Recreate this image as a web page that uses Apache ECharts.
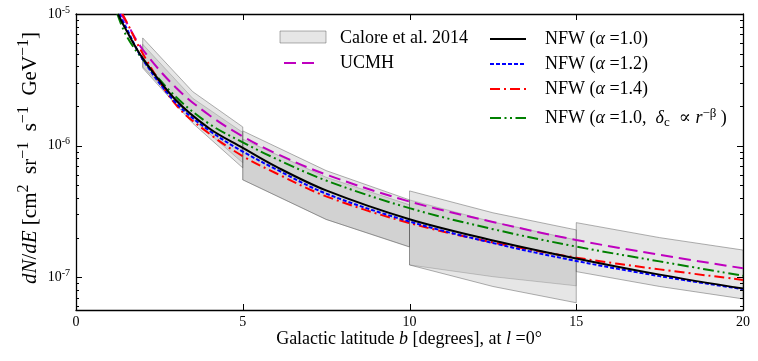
<!DOCTYPE html>
<html><head><meta charset="utf-8">
<script src="https://cdn.jsdelivr.net/npm/echarts@6/dist/echarts.min.js"></script>
<style>html,body{margin:0;padding:0;background:#fff}#c{width:758px;height:361px}</style>
</head><body><div id="c"></div>
<script>
// ---------------- data ----------------
const xTicks = [0, 5, 10, 15, 20];
const yMajorTicks = [1e-7, 1e-6, 1e-5];
const yMinorTicks = [6e-8, 7e-8, 8e-8, 9e-8,
  2e-7, 3e-7, 4e-7, 5e-7, 6e-7, 7e-7, 8e-7, 9e-7,
  2e-6, 3e-6, 4e-6, 5e-6, 6e-6, 7e-6, 8e-6, 9e-6];

const nfw10_b = [1.26, 1.5, 2, 3, 4, 5, 6, 7.5, 10, 12.5, 15, 17.5, 20];
const nfw10_v = [1e-5, 7.59e-6, 4.62e-6, 2.21e-6, 1.35e-6, 9.62e-7, 6.92e-7, 4.57e-7, 2.76e-7, 1.905e-7, 1.39e-7, 1.047e-7, 8.20e-8];

const nfw12_b = [1.30, 1.5, 2, 3, 4, 5, 6, 7.5, 10, 12.5, 15, 17.5, 20];
const nfw12_v = [1e-5, 7.94e-6, 4.52e-6, 2.11e-6, 1.30e-6, 9.02e-7, 6.61e-7, 4.32e-7, 2.65e-7, 1.82e-7, 1.33e-7, 1.02e-7, 8.13e-8];

const nfw14_b = [1.39, 1.5, 2, 3, 4, 5, 6, 7.5, 10, 12.5, 15, 17.5, 20];
const nfw14_v = [1e-5, 8.91e-6, 5.01e-6, 2.04e-6, 1.23e-6, 8.32e-7, 6.17e-7, 4.12e-7, 2.58e-7, 1.84e-7, 1.41e-7, 1.148e-7, 9.55e-8];

const ucmh_b = [1.35, 1.5, 2, 3, 4, 5, 6, 7.5, 10, 12.5, 15, 17.5, 20];
const ucmh_v = [1e-5, 8.71e-6, 5.37e-6, 2.75e-6, 1.70e-6, 1.175e-6, 8.71e-7, 6.03e-7, 3.76e-7, 2.63e-7, 1.92e-7, 1.48e-7, 1.17e-7];

const nfwBeta_b = [1.24, 1.5, 2, 3, 4, 5, 6, 7.5, 10, 12.5, 15, 17.5, 20];
const nfwBeta_v = [1e-5, 6.92e-6, 4.52e-6, 2.34e-6, 1.46e-6, 1.06e-6, 7.94e-7, 5.43e-7, 3.35e-7, 2.32e-7, 1.71e-7, 1.32e-7, 1.026e-7];

// Calore et al. 2014 latitude bins (outer band and inner band edges)
const bin1_b = [2, 3.5, 5];
const bin1_outerUp = [6.58e-6, 2.57e-6, 1.387e-6];
const bin1_outerLo = [3.89e-6, 1.48e-6, 6.78e-7];
const bin1_innerUp = [5.89e-6, 2.29e-6, 1.26e-6];
const bin1_innerLo = [3.98e-6, 1.585e-6, 7.41e-7];

const bin2_b = [5, 7.5, 10];
const bin2_outerUp = [1.294e-6, 6.46e-7, 3.87e-7];
const bin2_outerLo = [5.50e-7, 2.75e-7, 1.70e-7];
const bin2_innerUp = [1.122e-6, 5.75e-7, 3.55e-7];
const bin2_innerLo = [5.50e-7, 2.75e-7, 1.70e-7];

const bin3_b = [10, 12.5, 15];
const bin3_outerUp = [4.53e-7, 3.09e-7, 2.29e-7];
const bin3_outerLo = [1.24e-7, 8.51e-8, 6.40e-8];
const bin3_innerUp = [3.87e-7, 2.63e-7, 1.92e-7];
const bin3_innerLo = [1.24e-7, 1.01e-7, 8.61e-8];

const bin4_b = [15, 17.5, 20];
const bin4_outerUp = [2.60e-7, 2.00e-7, 1.61e-7];
const bin4_outerLo = [1.104e-7, 8.51e-8, 6.85e-8];

// ---------------- chart ----------------
const serif = '"Liberation Serif", "DejaVu Serif", serif';
const YMIN = 5.64e-8, YMAX = 1e-5;
const pairs = (xs, ys) => xs.map((x, i) => [x, ys[i]]);

const bins = [
  {b: bin1_b, ou: bin1_outerUp, ol: bin1_outerLo, iu: bin1_innerUp, il: bin1_innerLo},
  {b: bin2_b, ou: bin2_outerUp, ol: bin2_outerLo, iu: bin2_innerUp, il: bin2_innerLo},
  {b: bin3_b, ou: bin3_outerUp, ol: bin3_outerLo, iu: bin3_innerUp, il: bin3_innerLo},
  {b: bin4_b, ou: bin4_outerUp, ol: bin4_outerLo}
];

const bandFill = 'rgba(128,128,128,0.2)';
const bandEdge = 'rgba(80,80,80,0.45)';

function polygonFor(api, xs, up, lo) {
  const pts = [];
  for (let k = 0; k < xs.length; k++) pts.push(api.coord([xs[k], up[k]]));
  for (let k = xs.length - 1; k >= 0; k--) pts.push(api.coord([xs[k], lo[k]]));
  return pts;
}

const FS = 18;
const supTxt = {fontFamily: serif, fontSize: 13, verticalAlign: 'top', lineHeight: 22, color: '#000'};
const subTxt = {fontFamily: serif, fontSize: 13, verticalAlign: 'bottom', lineHeight: 22, color: '#000'};
const nTxt = {fontFamily: serif, fontSize: FS, lineHeight: 22, color: '#000'};
const iTxt = {fontFamily: serif, fontSize: FS, fontStyle: 'italic', lineHeight: 22, color: '#000'};
const richLeg = {n: nTxt, i: iTxt, sup: supTxt, sub: subTxt};

const yNameRich = {
  n: {fontFamily: serif, fontSize: 21, lineHeight: 28, color: '#000'},
  i: {fontFamily: serif, fontSize: 21, fontStyle: 'italic', lineHeight: 28, color: '#000'},
  sup: {fontFamily: serif, fontSize: 16, verticalAlign: 'top', lineHeight: 28, color: '#000'}
};

function lineSeries(name, b, v, color, type) {
  return {
    name, type: 'line', data: pairs(b, v), showSymbol: false, symbol: 'none',
    smooth: 0.35, clip: true, z: 3, silent: true,
    lineStyle: {color, width: 2, type}
  };
}

const styles = {
  ucmh: {color: '#bf00bf', dash: [12, 6]},
  beta: {color: '#008000', dash: [11, 3.5, 2, 3.5, 2, 3.5]},
  n14: {color: '#ff0000', dash: [10, 4, 2, 4]},
  n12: {color: '#0000ff', dash: [4, 2]},
  n10: {color: '#000000', dash: 'solid'}
};

const legendLines = [
  {x1: 284, x2: 320, y: 63, s: styles.ucmh},
  {x1: 490, x2: 526, y: 39, s: styles.n10},
  {x1: 490, x2: 526, y: 64, s: styles.n12},
  {x1: 490, x2: 526, y: 89, s: styles.n14},
  {x1: 490, x2: 526, y: 118, s: styles.beta}
];
const legendTexts = [
  {x: 340, y: 38, t: '{n|Calore et al. 2014}'},
  {x: 340, y: 63, t: '{n|UCMH}'},
  {x: 545, y: 39, t: '{n|NFW (}{i|α}{n| =1.0)}'},
  {x: 545, y: 64, t: '{n|NFW (}{i|α}{n| =1.2)}'},
  {x: 545, y: 89, t: '{n|NFW (}{i|α}{n| =1.4)}'},
  {x: 545, y: 118, t: '{n|NFW (}{i|α}{n| =1.0,  }{i|δ}{sub|c}{n|  ∝ }{i|r}{sup|−β}{n| )}'}
];

const graphic = [
  {type: 'rect', shape: {x: 280, y: 31, width: 46, height: 12},
   style: {fill: bandFill, stroke: bandEdge, lineWidth: 1}, z: 10}
];
legendLines.forEach(l => graphic.push({
  type: 'line', shape: {x1: l.x1, y1: l.y, x2: l.x2, y2: l.y},
  style: {stroke: l.s.color, lineWidth: 2, lineDash: l.s.dash === 'solid' ? null : l.s.dash}, z: 10
}));
legendTexts.forEach(t => graphic.push({
  type: 'text', x: t.x, y: t.y, z: 10,
  style: {text: t.t, rich: richLeg, verticalAlign: 'middle', align: 'left'}
}));
// axis titles
graphic.push({type: 'text', x: 409, y: 339, z: 10,
  style: {text: '{n|Galactic latitude }{i|b}{n| [degrees], at }{i|l}{n| =0°}', rich: {n: nTxt, i: iTxt},
          align: 'center', verticalAlign: 'middle'}});
graphic.push({type: 'text', x: 30, y: 158, rotation: Math.PI / 2, z: 10,
  style: {text: '{i|dN}{n|/}{i|dE}{n| [cm}{sup|2}{n|  sr}{sup|−1}{n|  s}{sup|−1}{n|  GeV}{sup|−1}{n|]}',
          rich: yNameRich, align: 'center', verticalAlign: 'middle'}});

const yLabelFmt = v => {
  const e = Math.log10(v);
  if (Math.abs(e - Math.round(e)) > 1e-6) return '';
  return '{b|10}{s|' + Math.round(e) + '}';
};

const allYTicks = yMajorTicks.map(v => [v, 6]).concat(yMinorTicks.map(v => [v, 3]));
const innerXTicks = xTicks.slice(1, -1);

const option = {
  animation: false,
  backgroundColor: '#fff',
  grid: {left: 76, right: 15, top: 14, bottom: 51, containLabel: false},
  xAxis: [
    {type: 'value', min: 0, max: 20, interval: 5, position: 'bottom',
     axisLine: {show: true, onZero: false, lineStyle: {color: '#000', width: 1.3}},
     axisTick: {show: false},
     axisLabel: {fontFamily: serif, fontSize: 14, color: '#000', margin: 5,
       formatter: v => (xTicks.includes(v) ? String(v) : '')},
     splitLine: {show: false}},
    {type: 'value', min: 0, max: 20, interval: 5, position: 'top',
     axisLine: {show: true, onZero: false, lineStyle: {color: '#000', width: 1.3}},
     axisTick: {show: false},
     axisLabel: {show: false}, splitLine: {show: false}}
  ],
  yAxis: [
    {type: 'log', logBase: 10, min: YMIN, max: YMAX, position: 'left',
     axisLine: {show: true, onZero: false, lineStyle: {color: '#000', width: 1.3}},
     axisTick: {show: false},
     minorTick: {show: false},
     axisLabel: {formatter: yLabelFmt, margin: 6, showMinLabel: false,
       rich: {b: {fontFamily: serif, fontSize: 14, color: '#000', lineHeight: 18},
              s: {fontFamily: serif, fontSize: 10, color: '#000', verticalAlign: 'top', lineHeight: 18}}},
     splitLine: {show: false}},
    {type: 'log', logBase: 10, min: YMIN, max: YMAX, position: 'right',
     axisLine: {show: true, onZero: false, lineStyle: {color: '#000', width: 1.3}},
     axisTick: {show: false},
     axisLabel: {show: false}, splitLine: {show: false}}
  ],
  series: [
    {type: 'custom', coordinateSystem: 'cartesian2d', z: 1, silent: true, clip: true,
     data: bins.map((bn, i) => [bn.b[0], bn.ou[0], i]),
     encode: {x: 0, y: 1},
     renderItem: (params, api) => {
       const bn = bins[params.dataIndex];
       const children = [{type: 'polygon', shape: {points: polygonFor(api, bn.b, bn.ou, bn.ol)},
         style: {fill: bandFill, stroke: bandEdge, lineWidth: 1}}];
       if (bn.iu) children.push({type: 'polygon', shape: {points: polygonFor(api, bn.b, bn.iu, bn.il)},
         style: {fill: bandFill, stroke: 'rgba(80,80,80,0.25)', lineWidth: 1}});
       return {type: 'group', children};
     }},
    lineSeries('UCMH', ucmh_b, ucmh_v, styles.ucmh.color, styles.ucmh.dash),
    lineSeries('NFW beta', nfwBeta_b, nfwBeta_v, styles.beta.color, styles.beta.dash),
    lineSeries('NFW 1.4', nfw14_b, nfw14_v, styles.n14.color, styles.n14.dash),
    lineSeries('NFW 1.2', nfw12_b, nfw12_v, styles.n12.color, styles.n12.dash),
    lineSeries('NFW 1.0', nfw10_b, nfw10_v, styles.n10.color, styles.n10.dash)
  ],
  graphic
};

const chart = echarts.init(document.getElementById('c'), null, {renderer: 'canvas'});
chart.setOption(option);

// inward ticks on all four sides, positioned through the chart's own axes
const tickEls = [];
const x0 = chart.convertToPixel({xAxisIndex: 0}, 0);
const x1 = chart.convertToPixel({xAxisIndex: 0}, 20);
const yTop = chart.convertToPixel({yAxisIndex: 0}, YMAX);
const yBot = chart.convertToPixel({yAxisIndex: 0}, YMIN);
allYTicks.forEach(t => {
  const y = Math.round(chart.convertToPixel({yAxisIndex: 0}, t[0])) + 0.5;
  tickEls.push({type: 'line', z: 50, silent: true, shape: {x1: x0, y1: y, x2: x0 + t[1], y2: y}, style: {stroke: '#000', lineWidth: 1}});
  tickEls.push({type: 'line', z: 50, silent: true, shape: {x1: x1 - t[1], y1: y, x2: x1, y2: y}, style: {stroke: '#000', lineWidth: 1}});
});
innerXTicks.forEach(v => {
  const x = Math.round(chart.convertToPixel({xAxisIndex: 0}, v)) + 0.5;
  tickEls.push({type: 'line', z: 50, silent: true, shape: {x1: x, y1: yBot, x2: x, y2: yBot - 6}, style: {stroke: '#000', lineWidth: 1}});
  tickEls.push({type: 'line', z: 50, silent: true, shape: {x1: x, y1: yTop, x2: x, y2: yTop + 6}, style: {stroke: '#000', lineWidth: 1}});
});
chart.setOption({graphic: graphic.concat(tickEls)});
</script>
</body></html>
